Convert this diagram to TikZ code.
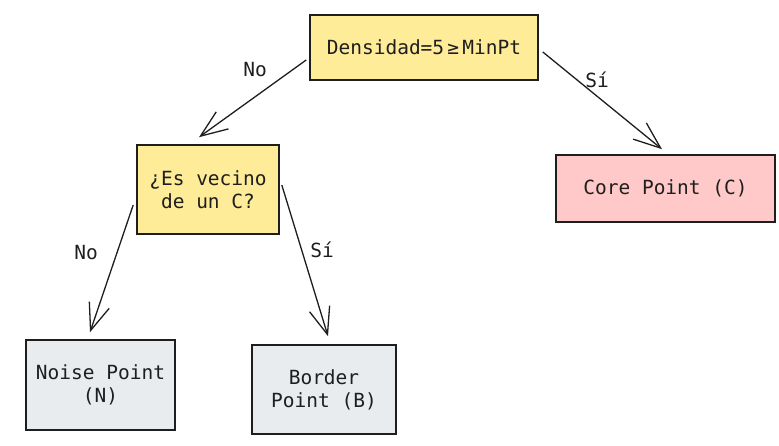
\documentclass[tikz,border=0pt]{standalone}
\usepackage{fontspec}
\setmonofont{DejaVu Sans Mono}
\usepackage{tikz}
\usetikzlibrary{arrows.meta,positioning,calc}
\definecolor{askyellow}{HTML}{FFEC99}
\definecolor{corepink}{HTML}{FFC9C9}
\definecolor{leafgray}{HTML}{E9ECEF}
\definecolor{ink}{HTML}{1E1E1E}

\begin{document}
\begin{tikzpicture}[
    x=1pt, y=-1pt,
    box/.style={draw=ink, line width=1.6pt, inner sep=0pt, align=center,
        font=\ttfamily\fontsize{19.5}{23}\selectfont, text=ink},
    ask/.style={box, fill=askyellow},
    core/.style={box, fill=corepink},
    leaf/.style={box, fill=leafgray},
    lbl/.style={font=\ttfamily\fontsize{19.5}{23}\selectfont, text=ink},
    link/.style={draw=ink, line width=1.3pt, -{Straight Barb[length=27pt, width=21pt]}}
]
\useasboundingbox (0,0) rectangle (779,446);

% decisions
\node[ask, minimum width=228pt, minimum height=65pt] (dens) at (424,47.5) {Densidad=5\,≥\,MinPt};
\node[ask, minimum width=142pt, minimum height=89pt] (vecino) at (208,189.5) {¿Es vecino\\de un C?};

% outcomes
\node[core, minimum width=219pt, minimum height=67pt] (corept) at (665.5,188.5) {Core Point (C)};
\node[leaf, minimum width=149pt, minimum height=90pt] (noise) at (100.5,385) {Noise Point\\(N)};
\node[leaf, minimum width=144pt, minimum height=89pt] (border) at (324,389.5) {Border\\Point (B)};

% arrows
\draw[link] ([shift={(-3,12.5)}]dens.west) -- ([shift={(-9,-7)}]vecino.north);
\draw[link] ([shift={(4,4.5)}]dens.east) -- ([shift={(-3.5,-5)}]corept.north);
\draw[link] ([shift={(-3,15.5)}]vecino.west) -- ([shift={(-10.5,-7)}]noise.north);
\draw[link] ([shift={(2,-4.5)}]vecino.east) -- ([shift={(4,-8)}]border.north);

% labels
\node[lbl] (no1) at (255,70) {No};
\node[lbl] (si1) at (597,80) {Sí};
\node[lbl] (no2) at (86,253) {No};
\node[lbl] (si2) at (322,250) {Sí};

\end{tikzpicture}
\end{document}
